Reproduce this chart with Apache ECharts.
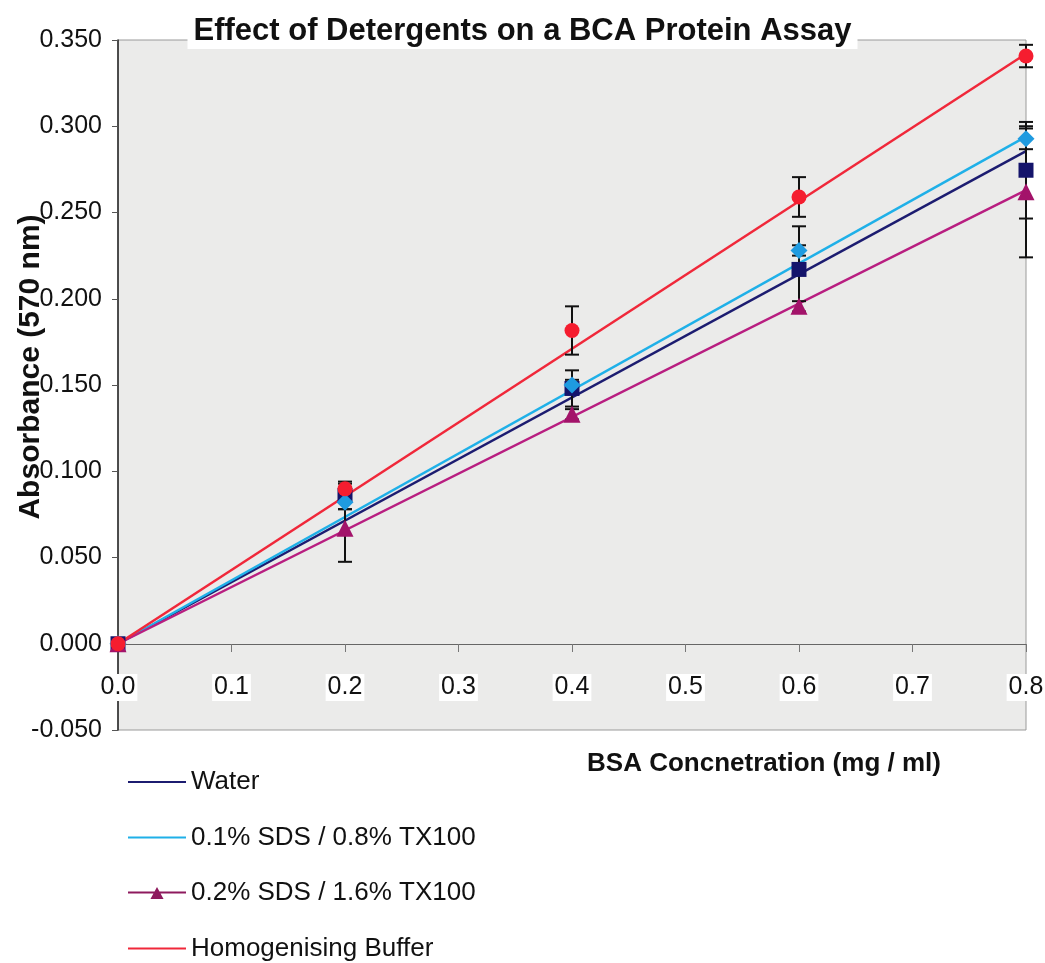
<!DOCTYPE html>
<html>
<head>
<meta charset="utf-8">
<script src="https://cdn.jsdelivr.net/npm/echarts@6/dist/echarts.min.js"></script>
<style>
  html, body { margin: 0; padding: 0; background: #fff; }
  #chart { width: 1045px; height: 963px; }
</style>
</head>
<body>
<div id="chart"></div>
<script>
// concentrations (mg/ml)
const conc = [0, 0.2, 0.4, 0.6, 0.8]
const seriesNames = ['Water', '0.1% SDS / 0.8% TX100', '0.2% SDS / 1.6% TX100', 'Homogenising Buffer']

// mean absorbance
const water = [0, 0.086, 0.148, 0.217, 0.2745]
const sds01 = [0, 0.082, 0.150, 0.228, 0.2927]
const sds02 = [0, 0.067, 0.133, 0.1956, 0.262]
const buffer = [0, 0.0898, 0.1816, 0.259, 0.3407]

// error (+/-)
const waterErr = [0, 0.008, 0.0105, 0.025, 0.028]
const sds01Err = [0, 0.004, 0.003, 0.003, 0.006]
const sds02Err = [0, 0.0195, 0.003, 0.003, 0.038]
const bufferErr = [0, 0.003, 0.014, 0.0115, 0.0065]

// linear trendlines, start and end values
const trendX = [0, 0.8]
const waterTrend = [0, 0.2856]
const sds01Trend = [0, 0.294]
const sds02Trend = [0, 0.263]
const bufferTrend = [0, 0.342]

const lineColors = ['#1c1c70', '#1fb0e8', '#b81e80', '#f0283a']
const markColors = ['#14146b', '#1f9be0', '#a3136a', '#f51d2f']
const symbols = ['rect', 'diamond', 'triangle', 'circle']
const symbolSizes = [15, 17, 17, 15]

const means = [water, sds01, sds02, buffer]
const errs = [waterErr, sds01Err, sds02Err, bufferErr]
const trends = [waterTrend, sds01Trend, sds02Trend, bufferTrend]

const lineIcon = 'path://M0,0H62V2H0Z'
const triIcon = 'path://M0,7H62V9H0Z M24,15L31,2L38,15Z'
const font = 'Liberation Sans, Arial, sans-serif'

const chart = echarts.init(document.getElementById('chart'))

const trendSeries = seriesNames.map((name, k) => ({
    name: name,
    type: 'line',
    z: 2,
    symbol: 'none',
    silent: true,
    color: lineColors[k],
    lineStyle: { color: lineColors[k], width: 2.5 },
    itemStyle: { color: k === 2 ? '#8e1a5e' : lineColors[k] },
    data: trendX.map((x, i) => [x, trends[k][i]])
}))

const errSeries = seriesNames.map((name, k) => ({
    name: name,
    type: 'custom',
    z: 3,
    silent: true,
    encode: { x: 0, y: [1, 2] },
    data: conc.map((x, i) => [x, means[k][i] - errs[k][i], means[k][i] + errs[k][i]])
        .filter((d, i) => errs[k][i] > 0),
    renderItem: (params, api) => {
        const x = api.value(0)
        const top = api.coord([x, api.value(2)])
        const bot = api.coord([x, api.value(1)])
        const half = 7
        const st = { stroke: '#111', lineWidth: 2 }
        return {
            type: 'group',
            children: [
                { type: 'line', shape: { x1: top[0], y1: top[1], x2: bot[0], y2: bot[1] }, style: st },
                { type: 'line', shape: { x1: top[0] - half, y1: top[1], x2: top[0] + half, y2: top[1] }, style: st },
                { type: 'line', shape: { x1: bot[0] - half, y1: bot[1], x2: bot[0] + half, y2: bot[1] }, style: st }
            ]
        }
    }
}))

const pointSeries = seriesNames.map((name, k) => ({
    name: name,
    type: 'scatter',
    z: 4,
    symbol: symbols[k],
    symbolSize: symbolSizes[k],
    itemStyle: { color: markColors[k], opacity: 1 },
    data: conc.map((x, i) => [x, means[k][i]])
}))

chart.setOption({
    animation: false,
    backgroundColor: '#fff',
    title: {
        text: 'Effect of Detergents on a BCA Protein Assay',
        left: 'center',
        top: 14,
        padding: [2, 6],
        backgroundColor: '#fff',
        textStyle: {
            fontFamily: font,
            fontSize: 31,
            fontWeight: 'bold',
            color: '#111'
        }
    },
    grid: {
        left: 118,
        right: 19,
        top: 40,
        bottom: 233,
        outerBoundsMode: 'none',
        show: true,
        backgroundColor: '#ebebea',
        borderColor: '#9a9a9a',
        borderWidth: 1
    },
    legend: {
        orient: 'vertical',
        left: 128,
        top: 768,
        padding: 0,
        itemWidth: 58,
        itemHeight: 18,
        itemGap: 27.5,
        selectedMode: false,
        textStyle: {
            fontFamily: font,
            fontSize: 26,
            lineHeight: 28,
            color: '#111'
        },
        data: seriesNames.map((name, k) => ({ name: name, icon: k === 2 ? triIcon : lineIcon }))
    },
    xAxis: {
        type: 'value',
        min: 0,
        max: 0.8,
        interval: 0.1,
        offset: -86,
        name: 'BSA Concnetration (mg / ml)',
        nameLocation: 'middle',
        nameGap: 107,
        nameMoveOverlap: false,
        nameTextStyle: {
            fontFamily: font,
            fontSize: 26,
            fontWeight: 'bold',
            color: '#111',
            padding: [0, 0, 0, 384]
        },
        axisLine: { onZero: false, lineStyle: { color: '#666', width: 1 } },
        axisTick: { show: true, length: 8, lineStyle: { color: '#777' } },
        splitLine: { show: false },
        axisLabel: {
            margin: 30,
            formatter: v => v.toFixed(1),
            fontFamily: font,
            fontSize: 25,
            color: '#111',
            backgroundColor: '#fff',
            padding: [1, 2]
        }
    },
    yAxis: {
        type: 'value',
        min: -0.05,
        max: 0.35,
        interval: 0.05,
        name: 'Absorbance (570 nm)',
        nameLocation: 'middle',
        nameGap: 72,
        nameMoveOverlap: false,
        nameTextStyle: {
            fontFamily: font,
            fontSize: 30,
            fontWeight: 'bold',
            color: '#111',
            padding: [0, 0, 0, 36]
        },
        axisLine: { show: true, lineStyle: { color: '#222', width: 1.5 } },
        axisTick: { show: true, length: 6, lineStyle: { color: '#555' } },
        splitLine: { show: false },
        axisLabel: {
            margin: 16,
            formatter: v => v.toFixed(3),
            fontFamily: font,
            fontSize: 25,
            color: '#111'
        }
    },
    series: [...trendSeries, ...errSeries, ...pointSeries]
})
</script>
</body>
</html>
